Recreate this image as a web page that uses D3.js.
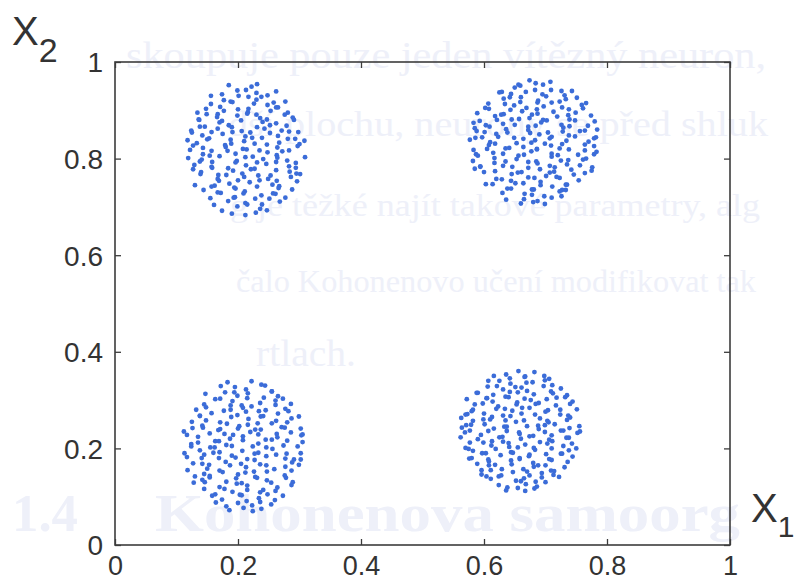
<!DOCTYPE html>
<html>
<head>
<meta charset="utf-8">
<script src="https://cdn.jsdelivr.net/npm/d3@7"></script>
<style>
  body { margin: 0; background: #fff; }
  svg { display: block; }
  .tick text { font-family: "Liberation Sans", Arial, sans-serif; fill: #333; }
</style>
</head>
<body>
<svg id="chart"></svg>
<script>
// tick values on both axes
const xTicks = [0, 0.2, 0.4, 0.6, 0.8, 1];
const yTicks = [0, 0.2, 0.4, 0.6, 0.8, 1];

// cluster around (0.2, 0.8)
const clusterTL = [
  [.185,.952],[.199,.941],[.222,.949],[.231,.954],
  [.174,.933],[.201,.930],[.213,.942],[.230,.936],[.238,.928],[.262,.939],
  [.156,.930],[.177,.921],[.188,.918],[.217,.928],[.230,.922],[.248,.931],[.258,.916],
  [.156,.913],[.171,.907],[.191,.917],[.217,.903],[.226,.914],[.248,.911],[.265,.906],[.277,.918],
  [.134,.895],[.148,.903],[.167,.892],[.177,.899],[.200,.902],[.216,.896],[.230,.891],[.253,.899],[.262,.906],[.281,.895],
  [.137,.880],[.149,.892],[.166,.886],[.174,.878],[.199,.889],[.215,.893],[.236,.884],[.247,.881],[.276,.891],[.289,.885],
  [.136,.881],[.146,.866],[.170,.875],[.185,.869],[.205,.879],[.231,.865],[.240,.876],[.262,.873],[.279,.868],[.291,.880],
  [.124,.858],[.138,.866],[.157,.855],[.167,.862],[.190,.865],[.206,.857],[.220,.854],[.243,.862],[.252,.869],[.271,.858],[.298,.855],
  [.125,.854],[.142,.848],[.150,.840],[.175,.851],[.191,.855],[.212,.846],[.223,.843],[.252,.853],[.265,.847],[.283,.856],[.293,.841],
  [.118,.838],[.133,.832],[.153,.842],[.179,.828],[.188,.839],[.210,.836],[.227,.831],[.239,.843],[.267,.833],[.281,.841],[.300,.830],[.308,.837],
  [.127,.827],[.143,.822],[.157,.816],[.180,.824],[.189,.831],[.208,.820],[.235,.817],[.247,.829],[.264,.823],[.272,.815],[.297,.826],
  [.122,.818],[.143,.809],[.154,.806],[.183,.816],[.196,.810],[.214,.819],[.224,.804],[.248,.813],[.263,.807],[.283,.817],[.309,.803],
  [.119,.801],[.141,.798],[.158,.793],[.170,.805],[.198,.795],[.212,.803],[.231,.792],[.241,.799],[.264,.802],[.280,.796],[.294,.791],
  [.129,.787],[.138,.794],[.157,.783],[.184,.780],[.196,.792],[.213,.786],[.221,.778],[.246,.789],[.262,.793],[.283,.784],[.294,.781],
  [.127,.778],[.140,.772],[.158,.781],[.168,.766],[.192,.775],[.207,.769],[.227,.779],[.253,.765],[.262,.776],[.284,.773],[.301,.768],
  [.139,.768],[.167,.758],[.181,.766],[.200,.755],[.210,.762],[.233,.765],[.249,.758],[.263,.754],[.286,.762],[.295,.769],
  [.130,.745],[.157,.742],[.169,.754],[.186,.748],[.194,.740],[.219,.751],[.235,.755],[.256,.746],[.267,.743],[.296,.753],
  [.144,.735],[.162,.744],[.172,.729],[.196,.738],[.211,.732],[.231,.742],[.257,.728],[.266,.739],[.288,.736],
  [.155,.718],[.167,.730],[.195,.720],[.209,.728],[.228,.717],[.238,.724],[.261,.727],[.277,.719],
  [.161,.704],[.184,.712],[.193,.719],[.212,.708],[.239,.705],[.251,.717],[.268,.711],
  [.174,.692],[.199,.701],[.215,.705],[.236,.696],[.247,.693],
  [.190,.686],[.212,.683],[.229,.688]
];

// cluster around (0.7, 0.8)
const clusterTR = [
  [.656,.953],[.674,.962],[.684,.956],[.708,.959],
  [.629,.938],[.650,.947],[.659,.951],[.683,.942],[.696,.953],[.726,.940],
  [.625,.937],[.644,.934],[.660,.927],[.668,.938],[.695,.933],[.709,.942],[.731,.931],[.743,.940],
  [.607,.914],[.632,.924],[.642,.927],[.659,.917],[.688,.920],[.701,.929],[.710,.916],[.733,.923],[.751,.926],
  [.608,.903],[.634,.913],[.649,.910],[.669,.905],[.687,.916],[.697,.908],[.723,.918],[.738,.902],[.759,.911],[.766,.915],
  [.589,.894],[.602,.905],[.632,.892],[.643,.901],[.662,.898],[.678,.891],[.686,.902],[.713,.897],[.727,.906],[.749,.895],[.761,.904],
  [.593,.878],[.618,.888],[.628,.891],[.645,.881],[.674,.884],[.687,.893],[.696,.880],[.719,.887],[.737,.890],[.748,.879],[.774,.889],
  [.583,.874],[.603,.869],[.621,.880],[.631,.872],[.657,.882],[.672,.866],[.693,.875],[.702,.879],[.726,.870],[.739,.881],[.769,.868],[.780,.877],
  [.585,.863],[.601,.855],[.609,.866],[.636,.861],[.650,.870],[.672,.859],[.684,.868],[.704,.854],[.729,.864],[.739,.867],[.756,.857],[.784,.860],
  [.588,.857],[.597,.844],[.620,.851],[.638,.854],[.649,.843],[.675,.853],[.690,.850],[.710,.845],[.728,.856],[.738,.848],[.764,.858],[.779,.842],
  [.577,.839],[.586,.843],[.610,.834],[.623,.845],[.653,.832],[.664,.841],[.683,.838],[.699,.831],[.707,.842],[.734,.837],[.748,.846],[.770,.835],[.782,.844],
  [.583,.818],[.608,.828],[.618,.831],[.635,.821],[.664,.824],[.677,.833],[.686,.820],[.709,.827],[.727,.830],[.738,.819],[.764,.829],[.779,.826],
  [.587,.809],[.605,.820],[.615,.812],[.641,.822],[.656,.806],[.677,.815],[.686,.819],[.710,.810],[.723,.821],[.753,.808],[.764,.817],[.783,.814],
  [.582,.795],[.590,.806],[.617,.801],[.631,.810],[.653,.799],[.665,.808],[.685,.794],[.710,.804],[.720,.807],[.737,.797],[.766,.800],[.779,.809],
  [.594,.784],[.617,.791],[.635,.794],[.646,.783],[.672,.793],[.687,.790],[.707,.785],[.725,.796],[.735,.788],[.761,.798],[.776,.782],
  [.585,.779],[.594,.783],[.618,.774],[.631,.785],[.661,.772],[.672,.781],[.691,.778],[.707,.771],[.715,.782],[.742,.777],[.756,.786],[.775,.775],
  [.600,.772],[.620,.758],[.645,.768],[.655,.771],[.672,.761],[.701,.764],[.714,.773],[.723,.760],[.746,.767],[.764,.770],
  [.603,.747],[.629,.757],[.644,.754],[.664,.749],[.682,.760],[.692,.752],[.718,.762],[.733,.746],[.754,.755],
  [.614,.747],[.638,.738],[.651,.749],[.681,.736],[.692,.745],[.711,.742],[.727,.735],[.735,.746],
  [.630,.729],[.644,.738],[.666,.727],[.678,.736],[.698,.722],[.723,.732],[.733,.735],
  [.636,.715],[.665,.716],[.678,.725],[.687,.712],[.710,.719],[.726,.722],
  [.660,.707],[.680,.710],[.699,.706]
];

// cluster around (0.2, 0.2)
const clusterBL = [
  [.183,.337],[.195,.327],[.222,.339],[.238,.332],
  [.172,.329],[.194,.316],[.213,.322],[.244,.330],[.255,.318],
  [.147,.313],[.171,.303],[.179,.316],[.199,.309],[.216,.314],[.242,.305],[.255,.318],[.265,.308],
  [.145,.291],[.163,.302],[.191,.298],[.206,.289],[.215,.304],[.236,.294],[.261,.299],[.273,.303],
  [.132,.280],[.148,.285],[.177,.278],[.188,.289],[.208,.284],[.222,.287],[.234,.277],[.261,.290],[.277,.282],[.286,.292],
  [.138,.267],[.157,.273],[.188,.280],[.199,.269],[.213,.276],[.237,.266],[.245,.279],[.265,.272],[.282,.277],
  [.125,.255],[.138,.268],[.148,.258],[.171,.254],[.189,.265],[.217,.261],[.232,.252],[.241,.267],[.262,.257],[.287,.262],[.299,.266],
  [.126,.242],[.142,.247],[.171,.240],[.182,.251],[.202,.246],[.216,.249],[.228,.239],[.255,.252],[.271,.244],[.280,.254],[.302,.241],
  [.112,.235],[.143,.243],[.154,.231],[.168,.238],[.192,.228],[.200,.241],[.220,.234],[.237,.239],[.263,.230],[.276,.243],[.286,.233],[.305,.229],
  [.117,.228],[.135,.224],[.163,.215],[.178,.230],[.187,.220],[.208,.225],[.233,.229],[.245,.218],[.264,.223],[.280,.216],[.303,.227],
  [.124,.209],[.135,.212],[.155,.202],[.169,.215],[.181,.207],[.208,.217],[.224,.204],[.233,.210],[.255,.218],[.274,.206],[.305,.213],
  [.113,.190],[.124,.204],[.138,.196],[.162,.202],[.170,.192],[.190,.205],[.207,.195],[.233,.191],[.246,.202],[.256,.199],[.279,.189],[.297,.204],
  [.117,.182],[.145,.187],[.160,.191],[.169,.180],[.190,.185],[.215,.178],[.227,.189],[.246,.184],[.262,.187],[.291,.177],[.302,.190],
  [.127,.169],[.141,.180],[.153,.166],[.180,.172],[.196,.181],[.205,.168],[.227,.176],[.246,.165],[.277,.179],[.288,.171],[.302,.177],
  [.118,.155],[.142,.168],[.150,.158],[.170,.154],[.187,.165],[.213,.161],[.226,.152],[.236,.167],[.259,.157],[.277,.162],[.299,.166],
  [.130,.142],[.145,.147],[.154,.140],[.175,.151],[.200,.146],[.212,.150],[.231,.139],[.247,.152],[.276,.144],[.287,.154],
  [.128,.129],[.142,.135],[.154,.143],[.181,.131],[.197,.138],[.206,.128],[.228,.141],[.247,.134],[.278,.139],[.289,.130],
  [.146,.130],[.170,.120],[.178,.116],[.198,.127],[.215,.123],[.241,.114],[.254,.129],[.264,.119],[.287,.124],
  [.145,.116],[.163,.105],[.191,.110],[.206,.103],[.215,.114],[.236,.109],[.261,.112],[.273,.102],
  [.158,.102],[.174,.094],[.203,.104],[.214,.091],[.234,.097],[.248,.105],[.260,.093],
  [.164,.088],[.181,.080],[.200,.087],[.223,.082],[.236,.089],[.254,.084],
  [.186,.072],[.209,.077],[.224,.070],[.238,.075]
];

// cluster around (0.65, 0.23)
const clusterBR = [
  [.636,.353],[.656,.360],[.667,.349],[.682,.358],
  [.616,.350],[.625,.340],[.642,.345],[.666,.348],[.679,.337],[.698,.350],[.706,.344],
  [.607,.340],[.621,.329],[.643,.334],[.651,.327],[.669,.336],[.699,.341],[.711,.331],
  [.590,.315],[.606,.328],[.631,.322],[.642,.317],[.661,.326],[.670,.319],[.697,.329],[.712,.314],[.725,.324],
  [.588,.315],[.605,.304],[.615,.311],[.635,.307],[.655,.316],[.666,.303],[.681,.312],[.709,.318],[.718,.305],[.735,.310],
  [.572,.302],[.585,.291],[.604,.304],[.614,.297],[.640,.306],[.654,.295],[.676,.300],[.684,.292],[.702,.302],[.732,.306],[.744,.297],
  [.582,.280],[.598,.293],[.623,.287],[.634,.282],[.653,.291],[.662,.284],[.689,.294],[.704,.279],[.717,.289],[.740,.292],
  [.570,.270],[.580,.277],[.600,.272],[.620,.282],[.631,.268],[.646,.278],[.674,.284],[.683,.270],[.700,.276],[.724,.280],[.737,.268],[.751,.281],
  [.563,.263],[.573,.271],[.599,.260],[.613,.265],[.635,.258],[.643,.267],[.661,.272],[.691,.262],[.703,.257],[.724,.270],[.740,.264],
  [.571,.248],[.582,.257],[.601,.250],[.610,.260],[.637,.245],[.652,.255],[.665,.258],[.688,.247],[.705,.254],[.715,.250],[.735,.259],[.755,.246],
  [.564,.243],[.579,.249],[.607,.236],[.616,.241],[.633,.245],[.657,.233],[.670,.246],[.689,.240],[.699,.248],[.725,.237],[.739,.242],[.756,.235],
  [.569,.233],[.577,.237],[.595,.228],[.625,.223],[.637,.236],[.658,.230],[.674,.225],[.699,.234],[.710,.227],[.729,.237],[.738,.222],[.752,.232],
  [.562,.223],[.577,.212],[.590,.219],[.613,.215],[.630,.224],[.640,.211],[.660,.220],[.680,.226],[.691,.213],[.706,.218],[.734,.222],[.743,.210],
  [.575,.199],[.599,.212],[.612,.206],[.631,.214],[.641,.203],[.667,.208],[.681,.201],[.703,.210],[.711,.215],[.729,.205],[.750,.200],
  [.570,.201],[.582,.195],[.603,.190],[.619,.199],[.644,.192],[.655,.202],[.674,.187],[.683,.197],[.710,.200],[.725,.189],[.738,.196],
  [.580,.180],[.597,.190],[.607,.177],[.627,.186],[.647,.191],[.658,.178],[.673,.184],[.701,.188],[.710,.176],[.727,.189],[.744,.183],
  [.576,.179],[.589,.168],[.608,.173],[.618,.166],[.644,.175],[.658,.180],[.680,.170],[.688,.165],[.706,.178],[.736,.172],
  [.596,.155],[.608,.165],[.629,.157],[.645,.167],[.670,.152],[.681,.162],[.700,.165],[.709,.154],[.731,.161],
  [.596,.146],[.611,.155],[.624,.142],[.647,.151],[.664,.157],[.674,.144],[.694,.149],[.714,.153],[.722,.141],
  [.604,.142],[.611,.137],[.628,.144],[.652,.133],[.665,.138],[.684,.131],[.694,.140],[.713,.145],
  [.624,.124],[.638,.119],[.660,.132],[.668,.126],[.686,.121],[.700,.130],
  [.636,.113],[.655,.118],[.667,.112],[.682,.117]
];

// faint text showing through from the other side of the scanned page
const ghostLines = [
  "skoupuje pouze jeden vítězný neuron,",
  "dší plochu, neurony se před shluk",
  "g je těžké najít takové parametry, alg",
  "čalo Kohonenovo učení modifikovat tak",
  "rtlach."
];
const ghostHeading = ["1.4", "Kohonenova samoorg"];

const width = 795, height = 581;
const margin = {top: 62, right: 65, bottom: 36, left: 115};
const innerW = width - margin.left - margin.right;
const innerH = height - margin.top - margin.bottom;

const svg = d3.select('#chart')
    .attr('width', width)
    .attr('height', height);

// ghost text, [x, baseline, length, font size]
const ghostPos = [[126, 68, 640, 38], [228, 136, 540, 36], [230, 216, 530, 32], [236, 292, 520, 32], [256, 366, 100, 38]];
const ghost = svg.append('g')
    .attr('fill', '#eef0f9')
    .attr('font-family', '"Liberation Serif", "DejaVu Serif", serif');
ghost.selectAll('text.line')
    .data(ghostLines)
  .join('text')
    .attr('class', 'line')
    .attr('x', (d, i) => ghostPos[i][0])
    .attr('y', (d, i) => ghostPos[i][1])
    .attr('font-size', (d, i) => ghostPos[i][3])
    .attr('textLength', (d, i) => ghostPos[i][2])
    .attr('lengthAdjust', 'spacingAndGlyphs')
    .text(d => d);
const headPos = [[12, 66], [155, 585]];
ghost.selectAll('text.head')
    .data(ghostHeading)
  .join('text')
    .attr('class', 'head')
    .attr('x', (d, i) => headPos[i][0])
    .attr('y', 531)
    .attr('font-size', 52)
    .attr('font-weight', 'bold')
    .attr('textLength', (d, i) => headPos[i][1])
    .attr('lengthAdjust', 'spacingAndGlyphs')
    .text(d => d);

const xScale = d3.scaleLinear().domain([0, 1]).range([0, innerW]);
const yScale = d3.scaleLinear().domain([0, 1]).range([innerH, 0]);

const chart = svg.append('g')
    .attr('transform', `translate(${margin.left},${margin.top})`);

// points
const clusters = [clusterTL, clusterTR, clusterBL, clusterBR];
chart.append('g')
  .selectAll('g')
    .data(clusters)
  .join('g')
  .selectAll('circle')
    .data(d => d)
  .join('circle')
    .attr('cx', d => xScale(d[0]))
    .attr('cy', d => yScale(d[1]))
    .attr('r', 2.4)
    .attr('fill', '#3b6cd8');

// axes, ticks point inward like MATLAB
const axisColor = '#3c3c3c';
const fmt = d3.format('~g');
const xAxis = d3.axisBottom(xScale).tickValues(xTicks).tickSize(-6).tickPadding(11).tickFormat(fmt);
const yAxis = d3.axisLeft(yScale).tickValues(yTicks).tickSize(-6).tickPadding(12).tickFormat(fmt);
const xAxisTop = d3.axisTop(xScale).tickValues(xTicks).tickSize(-6).tickFormat('');
const yAxisRight = d3.axisRight(yScale).tickValues(yTicks).tickSize(-6).tickFormat('');

const gx = chart.append('g').attr('transform', `translate(0,${innerH})`).call(xAxis);
const gy = chart.append('g').call(yAxis);
const gxt = chart.append('g').call(xAxisTop);
const gyr = chart.append('g').attr('transform', `translate(${innerW},0)`).call(yAxisRight);

[gx, gy, gxt, gyr].forEach(g => {
  g.select('.domain').remove();
  g.selectAll('.tick line').attr('stroke', axisColor).attr('stroke-width', 1.3);
});
gx.selectAll('.tick text').attr('font-size', 27).attr('dy', '0.71em');
gy.selectAll('.tick text').attr('font-size', 28).attr('dy', '0.35em');

// frame
chart.append('rect')
    .attr('width', innerW)
    .attr('height', innerH)
    .attr('fill', 'none')
    .attr('stroke', axisColor)
    .attr('stroke-width', 1.6);

// axis titles with subscripts
const titleFont = '"Liberation Sans", Arial, sans-serif';
const ylab = svg.append('text')
    .attr('x', 12)
    .attr('y', 45)
    .attr('font-family', titleFont)
    .attr('font-size', 40)
    .attr('fill', '#333');
ylab.append('tspan').text('X');
ylab.append('tspan').attr('font-size', 34).attr('dy', 17).text('2');

const xlab = svg.append('text')
    .attr('x', 751)
    .attr('y', 522)
    .attr('font-family', titleFont)
    .attr('font-size', 40)
    .attr('fill', '#333');
xlab.append('tspan').text('X');
xlab.append('tspan').attr('font-size', 30).attr('dy', 15).text('1');
</script>
</body>
</html>
